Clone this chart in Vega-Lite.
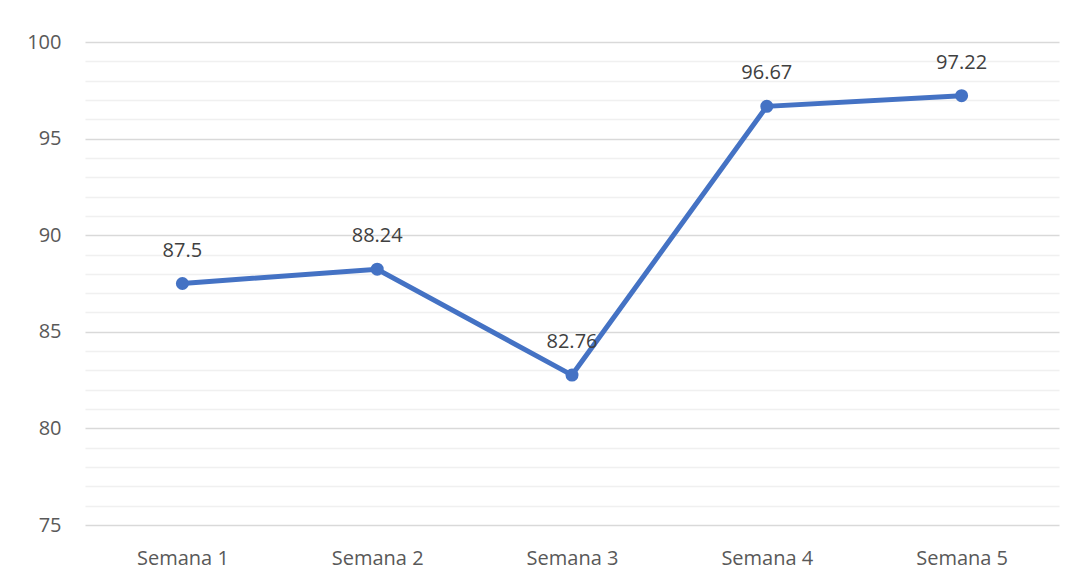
{
  "$schema": "https://vega.github.io/schema/vega-lite/v6.json",
  "width": 974,
  "height": 483,
  "autosize": {"type": "none"},
  "padding": {"left": 85, "top": 42, "right": 17, "bottom": 53},
  "background": "white",
  "config": {"view": {"stroke": null}, "font": "Open Sans"},
  "data": {"values": [
    {"semana": "Semana 1", "valor": 87.5},
    {"semana": "Semana 2", "valor": 88.24},
    {"semana": "Semana 3", "valor": 82.76},
    {"semana": "Semana 4", "valor": 96.67},
    {"semana": "Semana 5", "valor": 97.22}
  ]},
  "encoding": {
    "x": {"field": "semana", "type": "nominal", "sort": null,
      "scale": {"type": "point", "padding": 0.5},
      "axis": {"title": null, "labelAngle": 0, "domain": false, "ticks": false, "labelPadding": 23, "labelFontSize": 20, "labelColor": "#595959", "labelFont": "Open Sans", "grid": false}}
  },
  "layer": [
    {
      "mark": {"type": "rule", "opacity": 0},
      "encoding": {
        "y": {"field": "valor", "type": "quantitative",
          "scale": {"domain": [75, 100], "nice": false, "zero": false},
          "axis": {"title": null, "values": [76,77,78,79,81,82,83,84,86,87,88,89,91,92,93,94,96,97,98,99], "labels": false, "ticks": false, "domain": false, "grid": true, "gridColor": "#f0f0f0", "gridWidth": 1.5, "orient": "left"}}
      }
    },
    {
      "mark": {"type": "line", "color": "#4472C4", "strokeWidth": 5, "point": {"filled": true, "size": 170, "color": "#4472C4"}},
      "encoding": {
        "y": {"field": "valor", "type": "quantitative",
          "scale": {"domain": [75, 100], "nice": false, "zero": false},
          "axis": {"title": null, "values": [75, 80, 85, 90, 95, 100], "ticks": false, "domain": false, "grid": true, "gridColor": "#d9d9d9", "gridWidth": 1.5, "labelPadding": 24, "labelFontSize": 20, "labelColor": "#595959", "labelFont": "Open Sans", "orient": "left"}}
      }
    },
    {
      "mark": {"type": "text", "fontSize": 20, "color": "#404040", "baseline": "middle", "dy": -33, "font": "Open Sans"},
      "encoding": {
        "y": {"field": "valor", "type": "quantitative", "axis": null},
        "text": {"field": "valor", "type": "quantitative"}
      }
    }
  ],
  "resolve": {"axis": {"y": "independent"}}
}
